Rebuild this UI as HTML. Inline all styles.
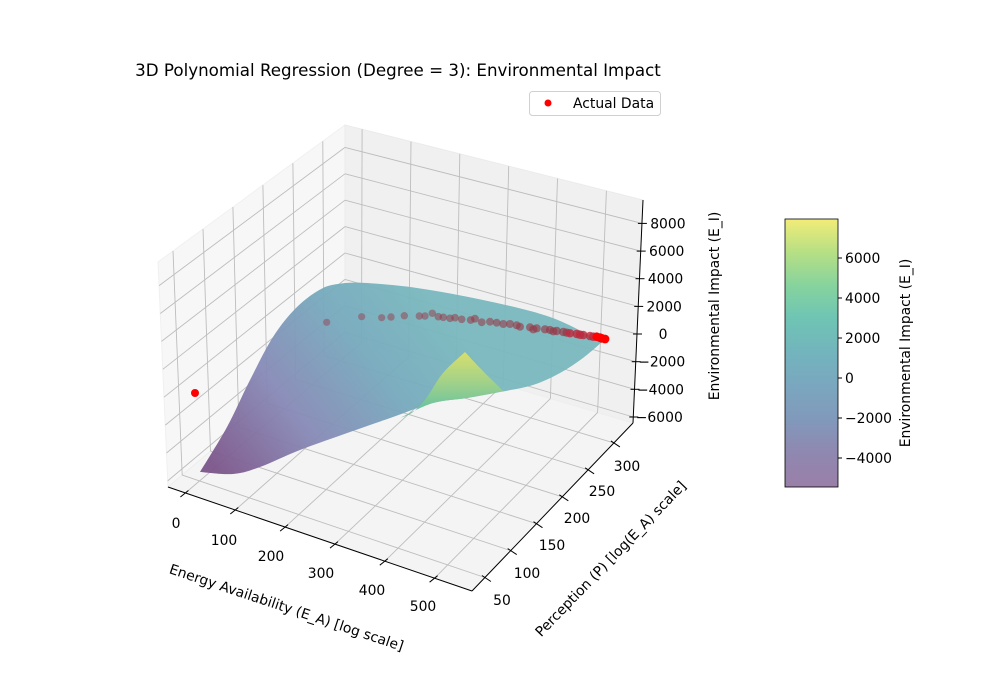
<!DOCTYPE html>
<html><head><meta charset="utf-8">
<style>
html,body{margin:0;padding:0;background:#fff;}
svg{display:block;font-family:"DejaVu Sans","Liberation Sans",sans-serif;}
</style></head>
<body>
<svg id="s" width="1000" height="700" viewBox="0 0 1000 700" xmlns="http://www.w3.org/2000/svg">
<defs>
<linearGradient id="surf" gradientUnits="userSpaceOnUse" x1="215" y1="470" x2="430" y2="300">
<stop offset="0" stop-color="#7c558a"/>
<stop offset="0.35" stop-color="#8789b6"/>
<stop offset="0.7" stop-color="#76aabd"/>
<stop offset="1" stop-color="#79b8bd"/>
</linearGradient>
<linearGradient id="spike" gradientUnits="userSpaceOnUse" x1="0" y1="352" x2="0" y2="415">
<stop offset="0" stop-color="#d8df6c"/>
<stop offset="0.5" stop-color="#9fd18a"/>
<stop offset="1" stop-color="#5fbfa3"/>
</linearGradient>
<linearGradient id="cb" x1="0" y1="1" x2="0" y2="0">
<stop offset="0" stop-color="#9a7fa8"/>
<stop offset="0.13" stop-color="#8f88b0"/>
<stop offset="0.25" stop-color="#8199bb"/>
<stop offset="0.38" stop-color="#7aa7bf"/>
<stop offset="0.5" stop-color="#73b4bd"/>
<stop offset="0.63" stop-color="#6fc4b4"/>
<stop offset="0.75" stop-color="#86d39e"/>
<stop offset="0.88" stop-color="#b8e083"/>
<stop offset="1" stop-color="#f2ec78"/>
</linearGradient>
</defs>
<g id="panes"></g>
<g id="grid" stroke="#bdbdbd" stroke-width="0.9" fill="none"></g>
<g id="surfg"></g>
<g id="pts"></g>
<g id="axes" stroke="#000" stroke-width="1" fill="none"></g>
<g id="labels" font-size="13.9" fill="#000"></g>
<text x="398" y="76" font-size="16.7" text-anchor="middle">3D Polynomial Regression (Degree = 3): Environmental Impact</text>
<rect x="529.5" y="91.5" width="131" height="24" rx="3" fill="#fff" stroke="#d0d0d0"/>
<circle cx="548" cy="103" r="3.5" fill="#ff0000"/>
<text x="573" y="108" font-size="13.9">Actual Data</text>
<text transform="translate(285,612) rotate(18.5)" font-size="13.9" text-anchor="middle">Energy Availability (E_A) [log scale]</text>
<text transform="translate(614,562) rotate(-46)" font-size="13.9" text-anchor="middle">Perception (P) [log(E_A) scale]</text>
<text transform="translate(719,306) rotate(-90)" font-size="13.9" text-anchor="middle">Environmental Impact (E_I)</text>
<rect x="785" y="219" width="53" height="268" fill="url(#cb)" stroke="#000" stroke-width="0.8"/>
<g id="cbt" font-size="13.9"></g>
<text transform="translate(910,353) rotate(-90)" font-size="13.9" text-anchor="middle">Environmental Impact (E_I)</text>
</svg>
<script>
(function(){
var NS="http://www.w3.org/2000/svg";
function el(p,t,a,txt){var e=document.createElementNS(NS,t);for(var k in a)e.setAttribute(k,a[k]);if(txt!==undefined)e.textContent=txt;document.getElementById(p).appendChild(e);return e;}
var xmin=-35,xmax=575,ymin=25,ymax=337,zmin=-6435,zmax=9695;
var Fb=[168,487],Fd=[472,591],Fc=[633,423],Fa=[345,338];
var Tb=[158,262],Td=[472,366],Tc=[643,200],Ta=[345,125];
function bil(p00,p10,p11,p01,u,v){return[(1-u)*(1-v)*p00[0]+u*(1-v)*p10[0]+u*v*p11[0]+(1-u)*v*p01[0],(1-u)*(1-v)*p00[1]+u*(1-v)*p10[1]+u*v*p11[1]+(1-u)*v*p01[1]];}
function P(x,y,z){var u=(x-xmin)/(xmax-xmin),v=(y-ymin)/(ymax-ymin),w=(z-zmin)/(zmax-zmin);var f=bil(Fb,Fd,Fc,Fa,u,v),t=bil(Tb,Td,Tc,Ta,u,v);return[f[0]+w*(t[0]-f[0]),f[1]+w*(t[1]-f[1])];}
function pts(a){return a.map(function(p){return p[0].toFixed(1)+","+p[1].toFixed(1)}).join(" ");}
el("panes","polygon",{points:pts([Fb,Fa,Ta,Tb]),fill:"#f7f7f7",stroke:"#f0f0f0"});
el("panes","polygon",{points:pts([Fa,Fc,Tc,Ta]),fill:"#f0f0f0",stroke:"#ebebeb"});
el("panes","polygon",{points:pts([Fb,Fd,Fc,Fa]),fill:"#f4f4f4",stroke:"#eeeeee"});
function line(g,a,b){el(g,"line",{x1:a[0].toFixed(1),y1:a[1].toFixed(1),x2:b[0].toFixed(1),y2:b[1].toFixed(1)});}
var xs=[0,100,200,300,400,500],ys=[50,100,150,200,250,300],zs=[-6000,-4000,-2000,0,2000,4000,6000,8000];
xs.forEach(function(x){line("grid",P(x,ymin,zmin),P(x,ymax,zmin));line("grid",P(x,ymax,zmin),P(x,ymax,zmax));});
ys.forEach(function(y){line("grid",P(xmin,y,zmin),P(xmax,y,zmin));line("grid",P(xmin,y,zmin),P(xmin,y,zmax));});
zs.forEach(function(z){line("grid",P(xmin,ymin,z),P(xmin,ymax,z));line("grid",P(xmin,ymax,z),P(xmax,ymax,z));});
function smooth(seg){var d="M"+seg[0][0]+","+seg[0][1];for(var i=0;i<seg.length-1;i++){var p0=seg[Math.max(i-1,0)],p1=seg[i],p2=seg[i+1],p3=seg[Math.min(i+2,seg.length-1)];var c1=[p1[0]+(p2[0]-p0[0])/6,p1[1]+(p2[1]-p0[1])/6],c2=[p2[0]-(p3[0]-p1[0])/6,p2[1]-(p3[1]-p1[1])/6];d+=" C"+c1[0].toFixed(1)+","+c1[1].toFixed(1)+" "+c2[0].toFixed(1)+","+c2[1].toFixed(1)+" "+p2[0]+","+p2[1];}return d;}
function cont(seg){return smooth(seg).replace(/^M[^ ]+/,"");}
var frontE=[[200,472],[233,474],[260,467],[300,450],[350,432],[393,417],[433,403],[467,398],[500,392],[533,385],[560,373],[583,358],[602,342]];
var topE=[[602,342],[550,317],[483,300],[417,288],[367,283],[345,283]];
var leftE=[[345,283],[323,288],[297,307],[273,337],[250,380],[227,427],[200,472]];
el("surfg","path",{d:smooth(frontE)+cont(topE)+cont(leftE)+"Z",fill:"url(#surf)",opacity:"0.95"});
var sr=[[465,352],[480,368],[497,385],[503,391]];
var sf=[[503,391],[467,398],[433,403],[400,418]];
var sl=[[400,418],[413,412],[427,397],[443,373],[465,352]];
el("surfg","path",{d:smooth(sr)+cont(sf)+cont(sl)+"Z",fill:"url(#spike)"});
line("axes",Fb,Fd);line("axes",Fd,Fc);line("axes",Fc,Tc);
xs.forEach(function(x){var p=P(x,ymin,zmin);line("axes",[p[0]-5,p[1]+4],[p[0]+3,p[1]-2.5]);});
ys.forEach(function(y){var p=P(xmax,y,zmin);line("axes",[p[0]-3,p[1]-2],[p[0]+6,p[1]+4]);});
zs.forEach(function(z){var p=P(xmax,ymax,z);line("axes",[p[0]-4,p[1]],[p[0]+5,p[1]]);});
var xl=[[176,523],[224,540],[271,556],[321,573],[372,590],[423,606]];
xs.forEach(function(x,i){el("labels","text",{x:xl[i][0],y:xl[i][1]+5,"text-anchor":"middle"},String(x));});
var yl=[[502,600],[527,573],[552,545],[577,518],[602,491],[627,466]];
ys.forEach(function(y,i){el("labels","text",{x:yl[i][0],y:yl[i][1]+5,"text-anchor":"middle"},String(y));});
zs.forEach(function(z){var p=P(xmax,ymax,z);el("labels","text",{x:(p[0]+26).toFixed(1),y:(p[1]+5).toFixed(1),"text-anchor":"middle"},(z<0?"\u2212":"")+Math.abs(z));});
[6000,4000,2000,0,-2000,-4000].forEach(function(v){var y=378-v/50;el("cbt","line",{x1:838,y1:y,x2:842,y2:y,stroke:"#000"});el("cbt","text",{x:845,y:y+5},(v<0?"\u2212":"")+Math.abs(v));});
var raw=[[530,607],[635,590],[695,593],[723,591],[763,587],[808,588],[825,588],[847,580],[865,590],[880,592],[900,595],[915,593],[935,598],[962,600],[975,596],[995,607],[1020,605],[1040,608],[1060,612],[1080,612],[1100,616],[1110,620],[1140,622],[1150,628],[1160,625],[1185,628],[1200,630],[1210,634],[1220,633],[1240,636],[1250,638],[1260,640],[1280,642],[1290,644],[1300,645],[1320,648],[1330,650],[1340,650],[1350,653],[1355,655],[1365,657]];
raw.forEach(function(p,i){var x=p[0]/3+150,y=p[1]/3+120;var t=i/(raw.length-1);var c=t>0.9?"rgba(255,0,0,1)":(t>0.75?"rgba(190,40,60,0.8)":"rgba(150,55,70,"+(0.45+0.3*t).toFixed(2)+")");el("pts","circle",{cx:x.toFixed(1),cy:y.toFixed(1),r:(3.6+0.8*t).toFixed(1),fill:c});});
el("pts","circle",{cx:195,cy:393,r:4,fill:"#ff0000"});
})();
</script>
</body></html>
